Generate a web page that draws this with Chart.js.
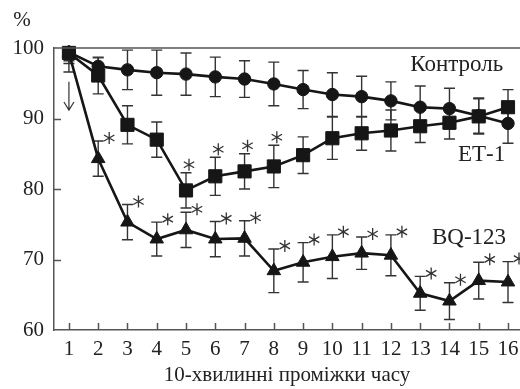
<!DOCTYPE html>
<html lang="uk">
<head>
  <meta charset="UTF-8">
  <title>Контроль / ЕТ-1 / BQ-123</title>
  <script src="https://cdn.jsdelivr.net/npm/chart.js"></script>
  <style>
    html, body { margin: 0; padding: 0; background: #fff; }
    #wrap { width: 520px; height: 389px; }
  </style>
</head>
<body>
  <div id="wrap"><canvas id="chart" width="520" height="389"></canvas></div>

  <script>
    // 10-хвилинні проміжки
    const periods = [1, 2, 3, 4, 5, 6, 7, 8, 9, 10, 11, 12, 13, 14, 15, 16];
    const yTicks = [60, 70, 80, 90, 100];

    const control    = [99.4, 97.4, 96.9, 96.5, 96.3, 95.9, 95.6, 94.9, 94.1, 93.4, 93.1, 92.5, 91.6, 91.4, 90.4, 89.3];
    const controlErr = [1.2, 1.2, 2.8, 3.2, 3.0, 2.8, 2.6, 3.1, 2.7, 3.1, 2.9, 2.7, 3.0, 2.9, 2.5, 2.8];

    const et1    = [99.3, 96.1, 89.1, 87.0, 79.8, 81.8, 82.5, 83.2, 84.8, 87.2, 87.9, 88.3, 88.9, 89.4, 90.3, 91.6];
    const et1Err = [2.7, 2.6, 2.7, 2.5, 2.5, 2.7, 2.5, 3.0, 2.6, 3.0, 2.4, 2.9, 2.3, 2.3, 2.5, 2.5];

    const bq    = [99.3, 84.3, 75.3, 72.9, 74.2, 72.9, 73.0, 68.4, 69.6, 70.4, 70.9, 70.6, 65.2, 64.1, 67.0, 66.8];
    const bqErr = [1.5, 2.5, 2.5, 2.4, 2.5, 2.5, 2.5, 3.1, 2.8, 3.1, 2.3, 2.9, 2.4, 2.6, 2.6, 2.9];

    // periods marked with * (significant difference)
    const et1Stars = [5, 6, 7, 8];
    const bqStars = [2, 3, 4, 5, 6, 7, 8, 9, 10, 11, 12, 13, 14, 15, 16];

    const seriesNames = ['Контроль', 'ЕТ-1', 'BQ-123'];
    const xTitle = '10-хвилинні проміжки часу';

    const serif = '"Liberation Serif", "DejaVu Serif", serif';
    const ink = '#161616';

    const groups = [
      { vals: control, err: controlErr, style: 'circle', radius: 6.2, stars: [] },
      { vals: et1, err: et1Err, style: 'rect', radius: 9.3, stars: et1Stars },
      { vals: bq, err: bqErr, style: 'triangle', radius: 7.8, stars: bqStars }
    ];

    // error bars, drawn under the lines
    const errorBars = {
      id: 'errorBars',
      beforeDatasetsDraw(chart) {
        const { ctx, chartArea: a, scales: { x, y } } = chart;
        ctx.save();
        ctx.beginPath();
        ctx.rect(a.left, a.top + 1, a.right - a.left, a.bottom - a.top);
        ctx.clip();
        ctx.strokeStyle = '#333';
        ctx.lineWidth = 1.4;
        groups.forEach(g => {
          g.vals.forEach((v, i) => {
            const px = x.getPixelForValue(periods[i]);
            const top = y.getPixelForValue(v + g.err[i]);
            const bot = y.getPixelForValue(v - g.err[i]);
            ctx.beginPath();
            ctx.moveTo(px, top); ctx.lineTo(px, bot);
            ctx.moveTo(px - 5.5, top); ctx.lineTo(px + 5.5, top);
            ctx.moveTo(px - 5.5, bot); ctx.lineTo(px + 5.5, bot);
            ctx.stroke();
          });
        });
        ctx.restore();
      }
    };

    function asterisk(ctx, cx, cy, r) {
      ctx.beginPath();
      for (let k = 0; k < 3; k++) {
        const ang = Math.PI / 2 + k * Math.PI / 3;
        ctx.moveTo(cx + r * Math.cos(ang), cy + r * Math.sin(ang));
        ctx.lineTo(cx - r * Math.cos(ang), cy - r * Math.sin(ang));
      }
      ctx.stroke();
    }

    // frame, inner ticks, asterisks, labels, arrow
    const extras = {
      id: 'extras',
      afterDraw(chart) {
        const { ctx, chartArea: a, scales: { x, y } } = chart;
        ctx.save();
        ctx.strokeStyle = '#555';
        ctx.lineWidth = 1.5;
        ctx.beginPath();
        ctx.moveTo(a.left, a.top); ctx.lineTo(a.right, a.top);
        periods.forEach(p => {
          const px = Math.round(x.getPixelForValue(p)) + 0.5;
          ctx.moveTo(px, a.bottom); ctx.lineTo(px, a.bottom - 7);
        });
        yTicks.slice(1, -1).forEach(v => {
          const py = Math.round(y.getPixelForValue(v)) + 0.5;
          ctx.moveTo(a.left, py); ctx.lineTo(a.left + 7, py);
        });
        ctx.stroke();

        ctx.strokeStyle = '#333';
        ctx.lineWidth = 1.3;
        groups.forEach((g, gi) => {
          g.stars.forEach(p => {
            const i = periods.indexOf(p);
            const px = x.getPixelForValue(p);
            const top = y.getPixelForValue(g.vals[i] + g.err[i]);
            const dx = gi === 1 ? 3 : 11;
            const dy = gi === 1 ? -8 : -3;
            asterisk(ctx, px + dx, top + dy, 6);
          });
        });

        ctx.font = '23px ' + serif;
        ctx.fillStyle = '#222';
        ctx.textAlign = 'center';
        ctx.textBaseline = 'middle';
        ctx.fillText(seriesNames[0], x.getPixelForValue(14.25), y.getPixelForValue(97.6));
        ctx.fillText(seriesNames[1], x.getPixelForValue(15.1), y.getPixelForValue(84.8));
        ctx.fillText(seriesNames[2], x.getPixelForValue(14.67), y.getPixelForValue(73.0));

        ctx.font = '21px ' + serif;
        ctx.fillText('%', a.left - 32, a.top - 28);

        // arrow under the first point
        const ax = x.getPixelForValue(1);
        const ay1 = y.getPixelForValue(95.2);
        const ay2 = y.getPixelForValue(91.2);
        ctx.strokeStyle = '#333';
        ctx.lineWidth = 1.2;
        ctx.beginPath();
        ctx.moveTo(ax, ay1); ctx.lineTo(ax, ay2);
        ctx.moveTo(ax - 5, ay2 - 8); ctx.lineTo(ax, ay2); ctx.lineTo(ax + 5, ay2 - 8);
        ctx.stroke();
        ctx.restore();
      }
    };

    const datasets = groups.map((g, i) => ({
      label: seriesNames[i],
      data: periods.map((p, k) => ({ x: p, y: g.vals[k] })),
      borderColor: ink,
      backgroundColor: ink,
      borderWidth: 2.6,
      pointStyle: g.style,
      pointRadius: g.radius,
      pointBackgroundColor: ink,
      pointBorderColor: ink,
      pointBorderWidth: 1,
      tension: 0,
      clip: false
    }));

    new Chart(document.getElementById('chart'), {
      type: 'line',
      data: { datasets: datasets },
      options: {
        responsive: false,
        animation: false,
        layout: { autoPadding: false, padding: { top: 48, right: 0, left: 0, bottom: 0 } },
        plugins: { legend: { display: false }, tooltip: { enabled: false } },
        scales: {
          x: {
            type: 'linear',
            min: 0.49,
            max: 16.41,
            afterBuildTicks: s => { s.ticks = periods.map(v => ({ value: v })); },
            afterFit: s => { s.height = 59; s.paddingLeft = 0; s.paddingRight = 0; },
            grid: { display: false, drawTicks: false },
            border: { display: true, color: '#555', width: 1.5 },
            ticks: { font: { family: serif, size: 21 }, color: '#222', padding: 7, maxRotation: 0, autoSkip: false },
            title: { display: true, text: xTitle, font: { family: serif, size: 21 }, color: '#222', padding: { top: 0, bottom: 1 } }
          },
          y: {
            min: 60,
            max: 100,
            afterBuildTicks: s => { s.ticks = yTicks.map(v => ({ value: v })); },
            afterFit: s => { s.width = 54; s.paddingTop = 0; s.paddingBottom = 0; },
            grid: { display: false, drawTicks: false },
            border: { display: true, color: '#555', width: 1.5 },
            ticks: { font: { family: serif, size: 21 }, color: '#222', padding: 10 }
          }
        }
      },
      plugins: [errorBars, extras]
    });
  </script>
</body>
</html>
